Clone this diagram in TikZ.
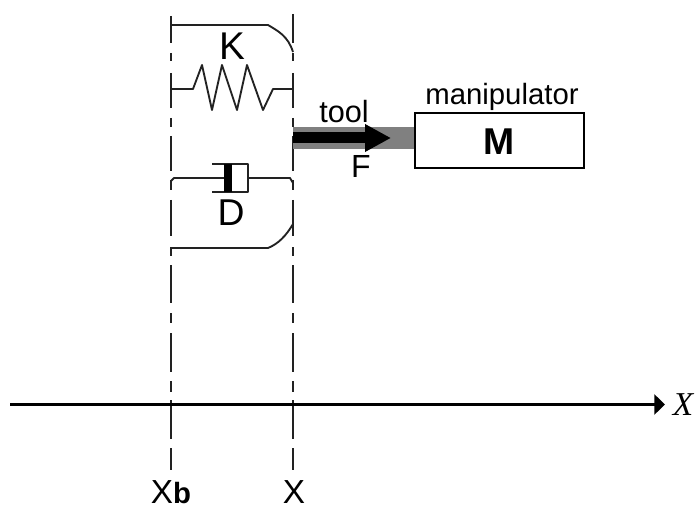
\documentclass[tikz,border=0pt]{standalone}
\usepackage{fontspec}
\setmainfont{Liberation Sans}
\newfontfamily\serifital{Liberation Serif}
\usetikzlibrary{arrows.meta}
\definecolor{inkdark}{HTML}{222222}
\definecolor{toolgrey}{HTML}{808080}
\tikzset{
  lbl/.style={inner sep=0pt,outer sep=0pt,anchor=base,text=black},
  guide/.style={draw=inkdark,line width=1.4pt},
  mech/.style={draw=inkdark,line width=1.4pt,line join=round},
  boxm/.style={draw=black,line width=1.3pt,minimum width=126.75pt,minimum height=41.25pt,inner sep=0pt,fill=white}
}
\begin{document}
\begin{tikzpicture}[x=0.75pt,y=-0.75pt]
\useasboundingbox (0,0) rectangle (696,506);
% guide lines
\foreach \a/\b in {16/43,53/61,73/108,118/127,136/171,180/190,200/236,247/256,265/303,313/323,333/372,381/392,400/439,448/470}{
  \draw[guide] (171,\a) -- (171,\b);
  \draw[guide] (293,\a) -- (293,\b);
}
\draw[guide] (293,14) -- (293,16);
% named anchor points
\coordinate (kTopL) at (171,25);
\coordinate (kTopBend) at (268,25);
\coordinate (kTopR) at (293,52);
\coordinate (sprL) at (171,89);
\coordinate (sprR) at (293,89);
\coordinate (dL) at (171,183);
\coordinate (dR) at (293,183);
\coordinate (dBotL) at (171,248);
\coordinate (dBotBend) at (268,248);
\coordinate (dBotR) at (293,224);
\coordinate (axL) at (10,404.5);
\coordinate (axR) at (665,404.5);
\coordinate (toolStart) at (293,138);
\coordinate (toolTip) at (391,138);
% top bracket
\draw[mech] (kTopL) -- (kTopBend) .. controls (278,31) and (288,36) .. (kTopR);
% spring
\draw[mech] (sprL) -- (193,89) -- (202,65) -- (212,110) -- (222,65) -- (237,110) -- (247,65) -- (263,110) -- (273,89) -- (sprR);
% damper
\draw[mech] (dL) -- (171,181) -- (174,178) -- (224,178);
\draw[mech] (212,164) -- (248,164) -- (248,192) -- (212,192);
\fill[black] (224,164) rectangle (232,192);
\draw[mech] (248,178) -- (290,178) -- (dR);
% bottom bracket
\draw[mech] (dBotL) -- (dBotBend) .. controls (278,244) and (286,236) .. (dBotR);
% box and tool
\node[boxm] (M) at (499.5,140.5) {};
\node[lbl,font=\bfseries\fontsize{28}{28}\selectfont] (Mlbl) at (499,155) {M};
\fill[toolgrey] (toolStart |- 0,127) rectangle (M.west |- 0,149);
\draw[line width=8.25pt,black,-{Triangle[length=19.5pt,width=19.5pt]}] (toolStart) -- (toolTip);
% labels
\node[lbl,font=\fontsize{29}{29}\selectfont] (K) at (232,60) {K};
\node[lbl,font=\fontsize{28}{28}\selectfont] (D) at (231,225) {D};
\node[lbl,font=\fontsize{24}{24}\selectfont] (F) at (361,178) {F};
\node[lbl,font=\fontsize{23}{23}\selectfont] (tool) at (344,123) {tool};
\node[lbl,font=\fontsize{22}{22}\selectfont] (man) at (502,105) {manipulator};
\node[lbl,font=\fontsize{25}{25}\selectfont] (xb) at (171,503) {X\textbf{\fontsize{22}{22}\selectfont b}};
\node[lbl,font=\fontsize{25}{25}\selectfont] (x) at (294,503) {X};
\node[lbl,font=\serifital\itshape\fontsize{25}{25}\selectfont] (xax) at (683,415) {X};
% axis
\draw[black,line width=2.3pt,-{Triangle[length=8pt,width=15pt]}] (axL) -- (axR);
\end{tikzpicture}
\end{document}
